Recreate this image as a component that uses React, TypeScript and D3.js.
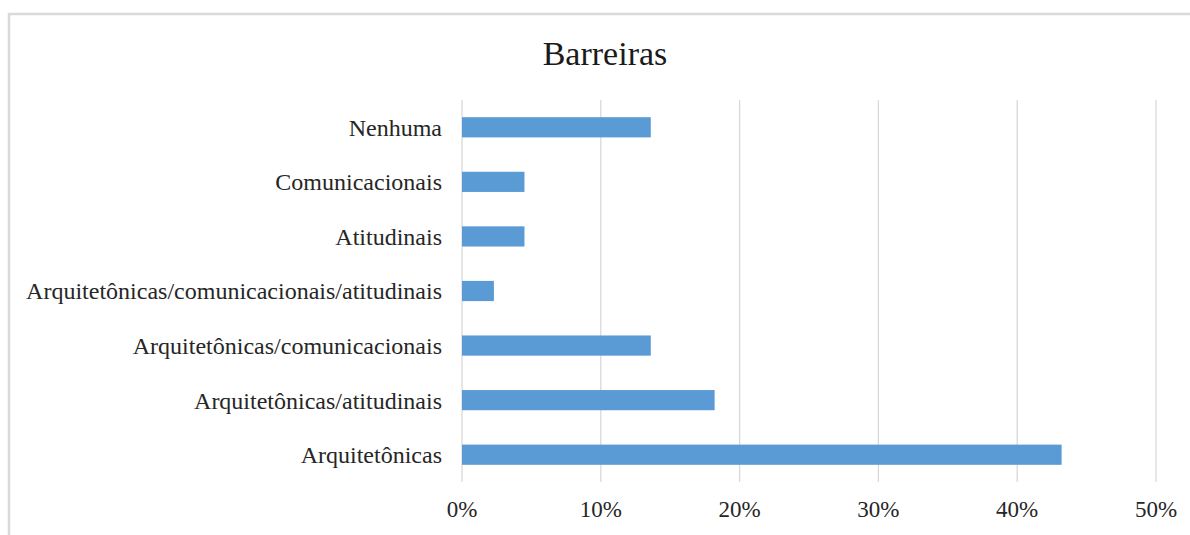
import React from "react";
import * as d3 from "d3";

const categories = [
  "Nenhuma",
  "Comunicacionais",
  "Atitudinais",
  "Arquitetônicas/comunicacionais/atitudinais",
  "Arquitetônicas/comunicacionais",
  "Arquitetônicas/atitudinais",
  "Arquitetônicas",
];
const values = [0.136, 0.045, 0.045, 0.023, 0.136, 0.182, 0.432];
const ticks = [0, 0.1, 0.2, 0.3, 0.4, 0.5];
const tickLabels = ["0%", "10%", "20%", "30%", "40%", "50%"];
const title = "Barreiras";

const W = 1190;
const H = 535;

export default function App() {
  const x = d3.scaleLinear().domain([0, 0.5]).range([462, 1156]);
  const y = d3
    .scaleBand<string>()
    .domain(categories)
    .range([100, 482])
    .paddingInner(0.63)
    .paddingOuter(0.315);
  const font = "'Liberation Serif', 'Times New Roman', serif";
  return (
    <div style={{ position: "fixed", left: 0, top: 0, width: W, height: H, background: "#fff" }}>
      <svg width={W} height={H} style={{ display: "block" }}>
        <rect x={0} y={0} width={W} height={H} fill="#fff" />
        <rect x={9} y={14} width={1400} height={800} fill="none" stroke="#d9d9d9" strokeWidth={2.5} />
        <text x={605} y={65} textAnchor="middle" fontFamily={font} fontSize={34} fill="#1a1a1a">
          {title}
        </text>
        {ticks.map((t, i) => (
          <g key={i}>
            <line x1={x(t)} x2={x(t)} y1={100} y2={482} stroke="#d9d9d9" strokeWidth={1.3} />
            <text x={x(t)} y={517} textAnchor="middle" fontFamily={font} fontSize={23} fill="#262626">
              {tickLabels[i]}
            </text>
          </g>
        ))}
        {categories.map((c, i) => (
          <g key={c}>
            <rect
              x={x(0)}
              y={y(c)!}
              width={x(values[i]) - x(0)}
              height={y.bandwidth()}
              fill="#5b9bd5"
            />
            <text
              x={442}
              y={y(c)! + y.bandwidth() / 2}
              dy="0.35em"
              textAnchor="end"
              fontFamily={font}
              fontSize={24}
              fill="#262626"
            >
              {c}
            </text>
          </g>
        ))}
      </svg>
    </div>
  );
}
